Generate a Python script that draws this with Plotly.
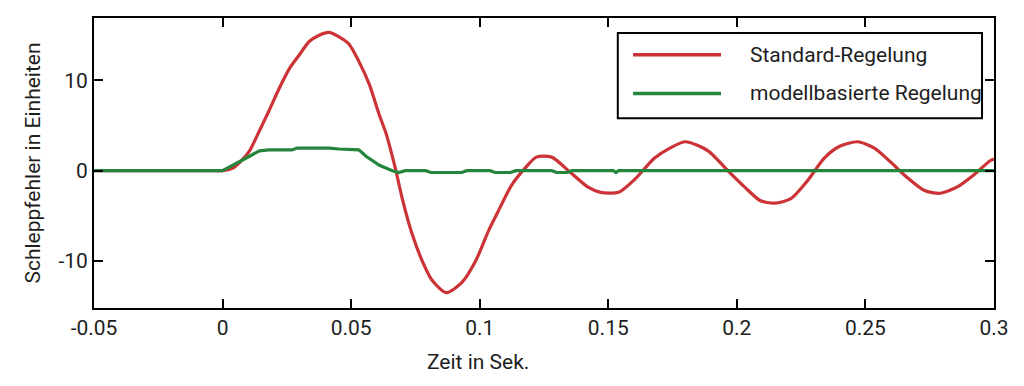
import plotly.graph_objects as go

# ---- data ----
t_standard = [-0.05, -0.02, -0.005, 0.0, 0.004, 0.007, 0.0105, 0.0143, 0.018, 0.022, 0.026, 0.0298, 0.0337,
              0.0376, 0.0415, 0.0453, 0.0492, 0.053, 0.057, 0.0608, 0.0636, 0.0674, 0.0698,
              0.0736, 0.0775, 0.0814, 0.087, 0.093, 0.0984, 0.1035, 0.107, 0.1124, 0.118,
              0.122, 0.128, 0.1345, 0.142, 0.147, 0.154, 0.1605, 0.168, 0.174, 0.180, 0.1888,
              0.1965, 0.203, 0.209, 0.2147, 0.221, 0.2275, 0.234, 0.240, 0.247, 0.2535, 0.26,
              0.266, 0.273, 0.279, 0.2857, 0.292, 0.2985, 0.3]
v_standard = [0, 0, 0, 0, 0.3, 1.0, 2.2, 4.4, 6.6, 9.1, 11.3, 12.8, 14.3,
              15.0, 15.3, 14.8, 14.0, 12.1, 9.6, 6.3, 4.1, 0, -3.0,
              -6.9, -9.9, -12.1, -13.5, -12.4, -10.0, -6.6, -4.6, -1.6, 0.4,
              1.5, 1.5, 0, -1.8, -2.4, -2.4, -0.9, 1.4, 2.5, 3.2, 2.2,
              0, -1.8, -3.3, -3.6, -3.1, -1.1, 1.4, 2.7, 3.2, 2.5, 0.9,
              -0.7, -2.2, -2.5, -1.8, -0.5, 1.1, 1.3]

t_model = [-0.05, 0.0, 0.0105, 0.0143, 0.018, 0.027, 0.029, 0.0415, 0.0453, 0.053, 0.0558,
           0.061, 0.066, 0.0685, 0.071, 0.079, 0.081, 0.093, 0.095, 0.1, 0.104, 0.106,
           0.112, 0.114, 0.128, 0.13, 0.134, 0.136, 0.152, 0.153, 0.154, 0.3]
v_model = [0, 0, 1.6, 2.2, 2.3, 2.3, 2.5, 2.5, 2.4, 2.3, 1.6,
           0.6, 0, -0.2, 0, 0, -0.2, -0.2, 0, 0, 0, -0.2,
           -0.2, 0, 0, -0.2, -0.2, 0, 0, -0.2, 0, 0]

series_names = ["Standard-Regelung", "modellbasierte Regelung"]
series_colors = ["#cc3337", "#26853c"]

x_ticks = [-0.05, 0, 0.05, 0.1, 0.15, 0.2, 0.25, 0.3]
x_ticklabels = ["-0.05", "0", "0.05", "0.1", "0.15", "0.2", "0.25", "0.3"]
y_ticks = [-10, 0, 10]
y_ticklabels = ["-10", "0", "10"]

x_title = "Zeit in Sek."
y_title = "Schleppfehler in Einheiten"

FONT = "Roboto"
FS = 21
TXT = "#1e1e1e"

fig = go.Figure()
fig.add_trace(go.Scatter(x=t_standard, y=v_standard, mode="lines", name=series_names[0],
                         line=dict(color=series_colors[0], width=3.2, shape="spline", smoothing=0.7),
                         showlegend=False))
fig.add_trace(go.Scatter(x=t_model, y=v_model, mode="lines", name=series_names[1],
                         line=dict(color=series_colors[1], width=3.2), showlegend=False))

axis_common = dict(showline=True, linecolor="black", linewidth=2, mirror="allticks",
                   ticks="inside", ticklen=9, tickwidth=2, tickcolor="black",
                   showgrid=False, zeroline=False,
                   tickfont=dict(family=FONT, size=FS, color=TXT))

fig.update_xaxes(range=[-0.05, 0.3], tickvals=x_ticks, ticktext=x_ticklabels, **axis_common)
fig.update_yaxes(range=[-15.2, 16.9], tickvals=y_ticks, ticktext=y_ticklabels,
                 title=dict(text=y_title, font=dict(family=FONT, size=FS, color=TXT), standoff=12),
                 **axis_common)

# legend box drawn manually (long line samples like the reference)
shapes = [dict(type="rect", xref="paper", yref="paper", x0=0.582, x1=0.9867, y0=0.654, y1=0.9486,
               line=dict(color="black", width=2), fillcolor="white", layer="above")]
annotations = []
leg_rows_y = [0.8733, 0.7397]
for name, col, yy in zip(series_names, series_colors, leg_rows_y):
    shapes.append(dict(type="line", xref="paper", yref="paper", x0=0.599, x1=0.6967, y0=yy, y1=yy,
                       line=dict(color=col, width=3.5), layer="above"))
    annotations.append(dict(text=name, xref="paper", yref="paper", x=0.7267, y=yy,
                            xanchor="left", yanchor="middle", showarrow=False,
                            font=dict(family=FONT, size=FS, color=TXT)))

annotations.append(dict(text=x_title, xref="paper", yref="paper", x=(478 - 94) / 900, y=-0.185,
                        xanchor="center", yanchor="middle", showarrow=False,
                        font=dict(family=FONT, size=FS, color=TXT)))

# page body has an 8px margin, so offsets compensate for it
fig.update_layout(width=1024, height=386, margin=dict(l=86, r=38, t=8, b=86),
                  paper_bgcolor="white", plot_bgcolor="white",
                  shapes=shapes, annotations=annotations,
                  font=dict(family=FONT, size=FS, color=TXT))

fig.write_html("out.html")
